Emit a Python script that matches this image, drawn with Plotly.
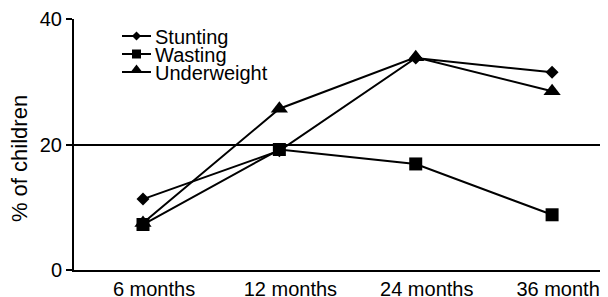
import plotly.graph_objects as go

categories = ["6 months", "12 months", "24 months", "36 months"]
stunting = [11.3, 19.0, 33.8, 31.5]
wasting = [7.25, 19.2, 16.9, 8.8]
underweight = [7.5, 25.7, 33.9, 28.5]
series_names = ["Stunting", "Wasting", "Underweight"]
y_title = "% of children"

xpos = list(range(len(categories)))
FONT = "Liberation Sans, Arial, Helvetica, sans-serif"

styles = {
    "Stunting": dict(symbol="diamond", size=10, leg=7),
    "Wasting": dict(symbol="square", size=13, leg=9),
    "Underweight": dict(symbol="triangle-up", size=15, leg=11),
}

fig = go.Figure()
for name, vals in zip(series_names, [stunting, wasting, underweight]):
    st = styles[name]
    fig.add_trace(go.Scatter(x=xpos, y=vals, name=name, mode="lines+markers",
                             line=dict(color="black", width=2),
                             marker=dict(symbol=st["symbol"], size=st["size"], color="black"),
                             showlegend=False, cliponaxis=False))

# Custom compact legend drawn on an overlay pixel axis (window pixels)
leg_x0, leg_x1, leg_tx = 122, 151, 153
leg_rows = [36, 54, 72]
for name, ry in zip(series_names, leg_rows):
    st = styles[name]
    my = ry - 2 if st["symbol"] == "triangle-up" else ry
    fig.add_trace(go.Scatter(x=[leg_x0, leg_x1], y=[ry, ry], mode="lines",
                             line=dict(color="black", width=2), xaxis="x2", yaxis="y2",
                             showlegend=False, hoverinfo="skip"))
    fig.add_trace(go.Scatter(x=[(leg_x0 + leg_x1) / 2], y=[my], mode="markers",
                             marker=dict(symbol=st["symbol"], size=st["leg"], color="black"),
                             xaxis="x2", yaxis="y2", showlegend=False, hoverinfo="skip"))
    fig.add_annotation(x=leg_tx, y=ry + 1, xref="x2", yref="y2", text=name, showarrow=False,
                       xanchor="left", yanchor="middle", font=dict(family=FONT, size=20, color="black"))

fig.add_annotation(x=-0.103, y=0.446, xref="paper", yref="paper", text=y_title, showarrow=False,
                   textangle=-90, xanchor="center", yanchor="middle",
                   font=dict(family=FONT, size=22, color="black"))

# page body has an 8px default margin; figure placed at (8, 8)
fig.update_layout(
    width=600, height=289,
    margin=dict(l=66, r=0, t=11, b=27, autoexpand=False),
    paper_bgcolor="white", plot_bgcolor="white",
    font=dict(family=FONT, size=20, color="black"),
    showlegend=False,
    xaxis=dict(range=[-0.506, 3.41], tickmode="array", tickvals=xpos, ticktext=categories,
               showgrid=False, zeroline=False, showline=True, linecolor="black", linewidth=2,
               ticks="", ticklabelshift=11, ticklabeloverflow="allow", automargin=False,
               tickfont=dict(size=20, color="black")),
    yaxis=dict(range=[0, 40], tickvals=[0, 20, 40], showgrid=True, gridcolor="black",
               gridwidth=1.5, zeroline=False, showline=True, linecolor="black", linewidth=2,
               ticks="outside", ticklen=6, tickwidth=1.5, tickcolor="black", automargin=False,
               tickfont=dict(size=20, color="black")),
    xaxis2=dict(overlaying="x", range=[74, 608], visible=False, fixedrange=True),
    yaxis2=dict(overlaying="y", range=[270, 19], visible=False, fixedrange=True),
)

fig.write_html("out.html")
